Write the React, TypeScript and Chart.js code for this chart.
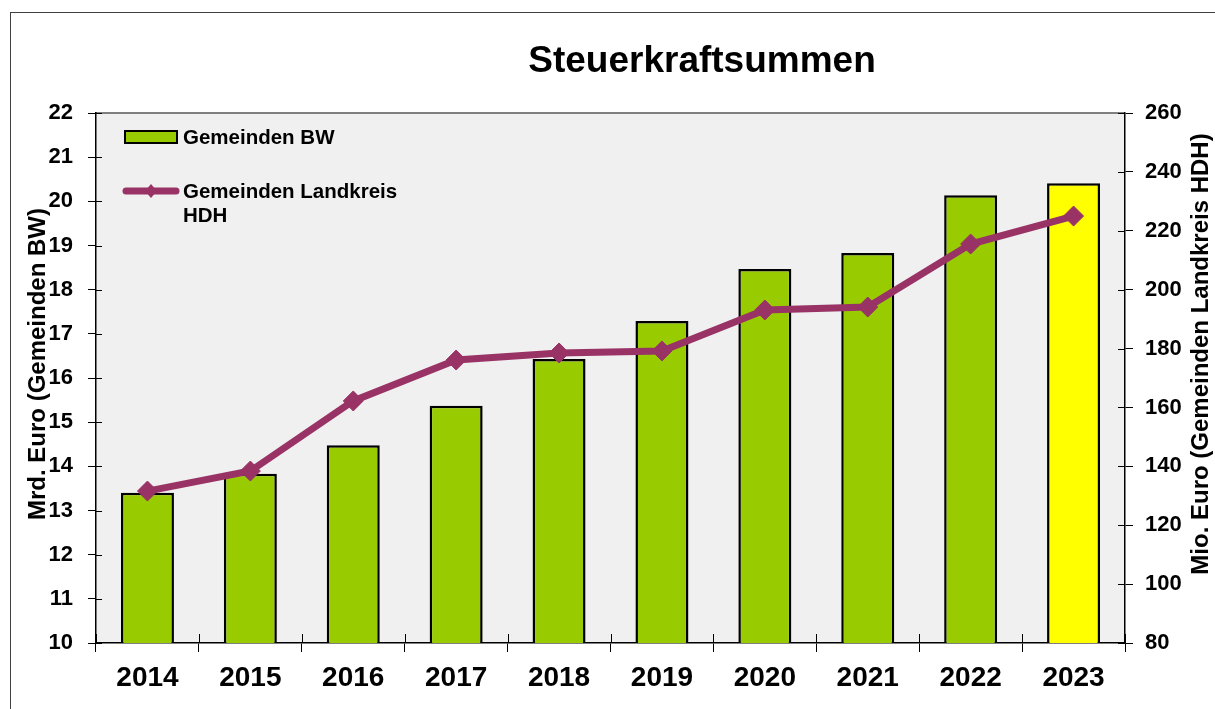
import React, { useEffect, useRef } from "react";
import { Chart, registerables } from "chart.js";

Chart.register(...registerables);

const years = ["2014", "2015", "2016", "2017", "2018", "2019", "2020", "2021", "2022", "2023"];
const bwValues = [13.4, 13.83, 14.48, 15.37, 16.43, 17.29, 18.47, 18.83, 20.14, 20.41];
const hdhValues = [131.6, 138.4, 162.2, 176.1, 178.5, 179.2, 193.1, 194.1, 215.5, 225.0];
const barColors = ["#99CC00", "#99CC00", "#99CC00", "#99CC00", "#99CC00", "#99CC00", "#99CC00", "#99CC00", "#99CC00", "#FFFF00"];

const titleText = "Steuerkraftsummen";
const leftTitle = "Mrd. Euro (Gemeinden BW)";
const rightTitle = "Mio. Euro (Gemeinden Landkreis HDH)";
const legendBW = "Gemeinden BW";
const legendHDH = ["Gemeinden Landkreis", "HDH"];

const FONT = "'Liberation Sans', Arial, sans-serif";
const LINE_COLOR = "#993366";

const decorPlugin = {
  id: "decor",
  beforeDraw(chart: any) {
    const { ctx, chartArea } = chart;
    ctx.save();
    ctx.fillStyle = "#F0F0F0";
    ctx.fillRect(chartArea.left, chartArea.top, chartArea.right - chartArea.left, chartArea.bottom - chartArea.top);
    ctx.strokeStyle = "#808080";
    ctx.lineWidth = 2;
    ctx.beginPath();
    ctx.moveTo(chartArea.left, chartArea.top);
    ctx.lineTo(chartArea.right, chartArea.top);
    ctx.stroke();
    ctx.restore();
  },
  afterDatasetsDraw(chart: any) {
    // inner halves of the crossing tick marks
    const { ctx, chartArea, scales } = chart;
    ctx.save();
    ctx.strokeStyle = "#000";
    ctx.lineWidth = 1;
    ctx.beginPath();
    scales.y.ticks.forEach((_t: any, i: number) => {
      const py = Math.round(scales.y.getPixelForTick(i)) + 0.5;
      ctx.moveTo(chartArea.left, py);
      ctx.lineTo(chartArea.left + 6, py);
    });
    scales.y1.ticks.forEach((_t: any, i: number) => {
      const py = Math.round(scales.y1.getPixelForTick(i)) + 0.5;
      ctx.moveTo(chartArea.right - 7, py);
      ctx.lineTo(chartArea.right, py);
    });
    const n = years.length;
    const w = (chartArea.right - chartArea.left) / n;
    for (let i = 0; i <= n; i++) {
      const px = Math.round(chartArea.left + i * w) + 0.5;
      ctx.moveTo(px, chartArea.bottom - 9);
      ctx.lineTo(px, chartArea.bottom);
    }
    ctx.stroke();
    ctx.restore();
  },
  afterDraw(chart: any) {
    const { ctx } = chart;
    ctx.save();
    ctx.fillStyle = "#000";
    // Title
    ctx.font = `bold 37px ${FONT}`;
    ctx.textAlign = "center";
    ctx.textBaseline = "middle";
    ctx.fillText(titleText, 702, 62);
    // Axis titles
    ctx.font = `bold 24px ${FONT}`;
    ctx.save();
    ctx.translate(38, 364);
    ctx.rotate(-Math.PI / 2);
    ctx.fillText(leftTitle, 0, 0);
    ctx.restore();
    ctx.save();
    ctx.translate(1201, 354);
    ctx.rotate(-Math.PI / 2);
    ctx.fillText(rightTitle, 0, 0);
    ctx.restore();
    // Legend
    ctx.textAlign = "left";
    ctx.font = `bold 20.5px ${FONT}`;
    ctx.fillStyle = "#99CC00";
    ctx.fillRect(125, 131, 52, 12);
    ctx.strokeStyle = "#000";
    ctx.lineWidth = 2;
    ctx.strokeRect(125, 131, 52, 12);
    ctx.fillStyle = "#000";
    ctx.fillText(legendBW, 183, 138);
    ctx.strokeStyle = LINE_COLOR;
    ctx.lineWidth = 7;
    ctx.lineCap = "round";
    ctx.beginPath();
    ctx.moveTo(126, 191);
    ctx.lineTo(176, 191);
    ctx.stroke();
    ctx.fillStyle = LINE_COLOR;
    ctx.beginPath();
    ctx.moveTo(151, 184);
    ctx.lineTo(157, 191);
    ctx.lineTo(151, 198);
    ctx.lineTo(145, 191);
    ctx.closePath();
    ctx.fill();
    ctx.fillStyle = "#000";
    ctx.fillText(legendHDH[0], 183, 192);
    ctx.fillText(legendHDH[1], 183, 216);
    ctx.restore();
  },
};

export default function App() {
  const ref = useRef<HTMLCanvasElement | null>(null);
  useEffect(() => {
    if (!ref.current) return;
    const chart = new Chart(ref.current, {
      type: "bar",
      data: {
        labels: years,
        datasets: [
          {
            type: "line",
            label: "Gemeinden Landkreis HDH",
            data: hdhValues,
            yAxisID: "y1",
            borderColor: LINE_COLOR,
            backgroundColor: LINE_COLOR,
            borderWidth: 7,
            pointStyle: "rectRot",
            pointRadius: 10,
            pointBorderWidth: 1,
            pointBackgroundColor: LINE_COLOR,
            pointBorderColor: LINE_COLOR,
            tension: 0,
            order: 0,
          } as any,
          {
            type: "bar",
            label: "Gemeinden BW",
            data: bwValues,
            yAxisID: "y",
            backgroundColor: barColors,
            borderColor: "#000",
            borderWidth: 2.5,
            barPercentage: 0.515,
            categoryPercentage: 1,
            order: 1,
          } as any,
        ],
      },
      options: {
        responsive: false,
        animation: false,
        layout: { padding: { top: 113, left: 0, right: 0, bottom: 0 } },
        plugins: {
          legend: { display: false },
          title: { display: false },
          tooltip: { enabled: false },
        },
        scales: {
          x: {
            offset: true,
            grid: { display: true, drawOnChartArea: false, drawTicks: true, tickLength: 9, color: "#000", offset: true },
            border: { display: true, color: "#000", width: 1.5 },
            ticks: { color: "#000", font: { family: FONT, size: 28, weight: "bold" }, padding: 9 },
            afterFit(scale: any) { scale.height = 66; },
          },
          y: {
            position: "left",
            min: 10,
            max: 22,
            ticks: { stepSize: 1, color: "#000", font: { family: FONT, size: 22, weight: "bold" }, padding: 15 },
            grid: { display: true, drawOnChartArea: false, drawTicks: true, tickLength: 8, color: "#000" },
            border: { display: true, color: "#000", width: 1.5 },
            afterFit(scale: any) { scale.width = 96; },
          },
          y1: {
            position: "right",
            min: 80,
            max: 260,
            ticks: { stepSize: 20, color: "#000", font: { family: FONT, size: 22, weight: "bold" }, padding: 12 },
            grid: { display: true, drawOnChartArea: false, drawTicks: true, tickLength: 8, color: "#000" },
            border: { display: true, color: "#000", width: 1.5 },
            afterFit(scale: any) { scale.width = 90; },
          },
        },
      } as any,
      plugins: [decorPlugin],
    });
    return () => chart.destroy();
  }, []);

  return (
    <div style={{ position: "fixed", left: 0, top: 0, width: 1215, height: 709, background: "#fff", overflow: "hidden" }}>
      <div style={{ position: "absolute", left: 10, top: 12, width: 1230, height: 720, border: "1px solid #404040", boxSizing: "border-box" }} />
      <canvas ref={ref} width={1215} height={709} style={{ position: "absolute", left: 0, top: 0, width: 1215, height: 709 }} />
    </div>
  );
}
